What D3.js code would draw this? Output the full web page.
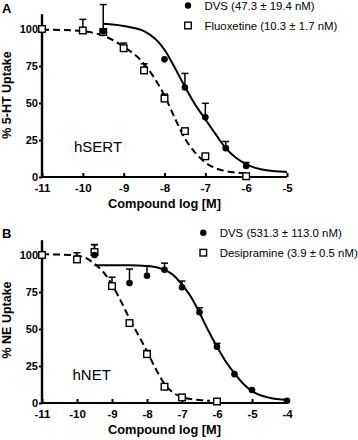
<!DOCTYPE html>
<html><head><meta charset="utf-8">
<script src="https://cdn.jsdelivr.net/npm/d3@7"></script>
<style>body{margin:0;background:#fff}svg{display:block}text{font-family:"Liberation Sans",Arial,sans-serif}</style>
</head><body><svg id="c" width="358" height="440"></svg>
<script>
// ---------- Panel A (hSERT) ----------
const aTicksX = [-11,-10,-9,-8,-7,-6,-5];
const aTicksY = [0,25,50,75,100];
const fluoxX = [-11,-10,-9.5,-9,-8.5,-8,-7.5,-7,-6];
const fluoxY = [100,99,98,87,72,53,31,14,0.5];
const fluoxErr = [0,7.5,1,3.5,4.5,3,1,1,1.5];
const dvsAX = [-9.5,-8,-7.5,-7,-6.5,-6];
const dvsAY = [98.5,79.5,60.5,40.3,19.5,7.5];
const dvsAErr = [18,0,9.5,9.5,4.5,2.3];
const dvsAFitX = [-9.5,-9,-8.5,-8,-7.75,-7.5,-7.25,-7,-6.75,-6.5,-6.25,-6,-5.5,-5];
const dvsAFitY = [103.5,102,98.5,86,74,61,49,39,29,19.5,13,8.7,4.5,3.4];
const fluoxFitX = [-11,-10.5,-10,-9.5,-9,-8.5,-8.25,-8,-7.75,-7.5,-7.25,-7,-6.75,-6.5,-6.25,-6];
const fluoxFitY = [99.5,99.3,98.5,95.5,88,76.5,67,55,40,26,16.5,9.8,6,4,3,2.3];
const aLegend = ["DVS (47.3 \u00b1 19.4 nM)","Fluoxetine (10.3 \u00b1 1.7 nM)"];

// ---------- Panel B (hNET) ----------
const bTicksX = [-11,-10,-9,-8,-7,-6,-5,-4];
const bTicksY = [0,25,50,75,100];
const desipX = [-11,-10,-9.5,-9,-8.5,-8,-7.5,-7,-6];
const desipY = [100,97,102,79,54,33,11,3.8,1];
const desipErr = [0,4.5,5,6,1,2.5,1,1,1];
const dvsBX = [-9.5,-8.5,-8,-7.5,-7,-6.5,-6,-5.5,-5,-4];
const dvsBY = [100,81,86,90,78.2,61.3,38,19.5,8.8,1.5];
const dvsBErr = [7,9.5,6.5,4.5,4.2,3,2.3,0,0,0];
const dvsBFitX = [-9.5,-9,-8.5,-8,-7.5,-7.25,-7,-6.75,-6.5,-6.25,-6,-5.75,-5.5,-5.25,-5,-4.5,-4];
const dvsBFitY = [93,93,93,92.6,90,86.5,80,72,61,49,38,28,20,13,8,3.5,2];
const desipFitX = [-11,-10.5,-10,-9.75,-9.5,-9.25,-9,-8.75,-8.5,-8.25,-8,-7.75,-7.5,-7.25,-7,-6.5,-6.2];
const desipFitY = [100.5,100.3,99.5,98,94,88.5,80,69,57,46,35,23,13,7,4,2,1.5];
const bLegend = ["DVS (531.3 \u00b1 113.0 nM)","Desipramine (3.9 \u00b1 0.5 nM)"];

const svg = d3.select("#c");

function panel(o){
  const g = svg.append("g");
  const x = d3.scaleLinear().domain(o.xd).range([42,287]);
  const y = d3.scaleLinear().domain([0,100]).range([o.y0, o.y0-148]);
  // axes
  const ya = d3.axisLeft(y).tickValues(o.ty).tickSize(3).tickPadding(1).tickFormat(d=>String(d));
  const yg = g.append("g").attr("transform","translate(42,0)").call(ya);
  yg.select(".domain").attr("d",`M0,${y(110)}V${y(0)}`).attr("stroke-width",2.4);
  yg.selectAll(".tick line").attr("stroke-width",2);
  yg.selectAll("text").attr("font-size",11).attr("font-weight","bold").attr("fill","#000");
  const xa = d3.axisBottom(x).tickValues(o.tx).tickSize(-4).tickPadding(7).tickFormat(d=>String(d));
  const xg = g.append("g").attr("transform",`translate(0,${y(0)})`).call(xa);
  xg.select(".domain").attr("d",`M${x(o.xd[0])},0H${x(o.xd[1])}`).attr("stroke-width",2.2);
  xg.selectAll(".tick line").attr("stroke-width",2);
  xg.selectAll("text").attr("font-size",11.5).attr("font-weight","bold").attr("fill","#000");
  // titles
  g.append("text").attr("x",164.5).attr("y",o.xtY).attr("text-anchor","middle").attr("font-size",12.8).attr("font-weight","bold").text("Compound log [M]");
  g.append("text").attr("transform",`translate(11,${o.ytC}) rotate(-90)`).attr("text-anchor","middle").attr("font-size",12.5).attr("font-weight","bold").text(o.ytitle);
  g.append("text").attr("x",2).attr("y",o.letterY).attr("font-size",13).attr("font-weight","bold").text(o.letter);
  g.append("text").attr("x",o.labX).attr("y",o.labY).attr("font-size",15).text(o.label);
  // fit curves
  const line = d3.line().x(d=>x(d[0])).y(d=>y(d[1])).curve(d3.curveMonotoneX);
  g.append("path").datum(d3.zip(o.solidX,o.solidY)).attr("d",line).attr("fill","none").attr("stroke","#000").attr("stroke-width",2);
  g.append("path").datum(d3.zip(o.dashX,o.dashY)).attr("d",line).attr("fill","none").attr("stroke","#000").attr("stroke-width",2).attr("stroke-dasharray","7,4");
  // error bars
  function ebars(X,Y,E){
    X.forEach((xv,i)=>{ if(E[i]<=0) return;
      const yt=y(Y[i]+E[i]);
      g.append("line").attr("x1",x(xv)).attr("x2",x(xv)).attr("y1",y(Y[i])).attr("y2",yt).attr("stroke","#000").attr("stroke-width",1.5);
      g.append("line").attr("x1",x(xv)-3.5).attr("x2",x(xv)+3.5).attr("y1",yt).attr("y2",yt).attr("stroke","#000").attr("stroke-width",1.5);
    });
  }
  ebars(o.sqX,o.sqY,o.sqE); ebars(o.ciX,o.ciY,o.ciE);
  g.selectAll(null).data(d3.zip(o.sqX,o.sqY)).join("rect").attr("x",d=>x(d[0])-3.3).attr("y",d=>y(d[1])-3.3).attr("width",6.6).attr("height",6.6).attr("fill","#fff").attr("stroke","#000").attr("stroke-width",1.4);
  g.selectAll(null).data(d3.zip(o.ciX,o.ciY)).join("circle").attr("cx",d=>x(d[0])).attr("cy",d=>y(d[1])).attr("r",3.3).attr("fill","#000");
  // legend
  const lg = g.append("g");
  lg.append("circle").attr("cx",o.legX).attr("cy",o.legY).attr("r",3.2).attr("fill","#000");
  lg.append("rect").attr("x",o.legX-3.3).attr("y",o.legY+20-3.3).attr("width",6.6).attr("height",6.6).attr("fill","#fff").attr("stroke","#000").attr("stroke-width",1.4);
  o.leg.forEach((t,i)=>lg.append("text").attr("x",o.legX+16.5).attr("y",o.legY+i*20+4).attr("font-size",11.4).text(t));
}

panel({xd:[-11,-5],y0:177,tx:aTicksX,ty:aTicksY,xtY:208,ytC:95,ytitle:"% 5-HT Uptake",letter:"A",letterY:13,
  label:"hSERT",labX:74,labY:152,
  solidX:dvsAFitX,solidY:dvsAFitY,dashX:fluoxFitX,dashY:fluoxFitY,
  sqX:fluoxX,sqY:fluoxY,sqE:fluoxErr,ciX:dvsAX,ciY:dvsAY,ciE:dvsAErr,
  legX:188,legY:5.5,leg:aLegend});
panel({xd:[-11,-4],y0:403,tx:bTicksX,ty:bTicksY,xtY:434,ytC:320,ytitle:"% NE Uptake",letter:"B",letterY:238,
  label:"hNET",labX:72.5,labY:380,
  solidX:dvsBFitX,solidY:dvsBFitY,dashX:desipFitX,dashY:desipFitY,
  sqX:desipX,sqY:desipY,sqE:desipErr,ciX:dvsBX,ciY:dvsBY,ciE:dvsBErr,
  legX:203.3,legY:232.7,leg:bLegend});
</script></body></html>
